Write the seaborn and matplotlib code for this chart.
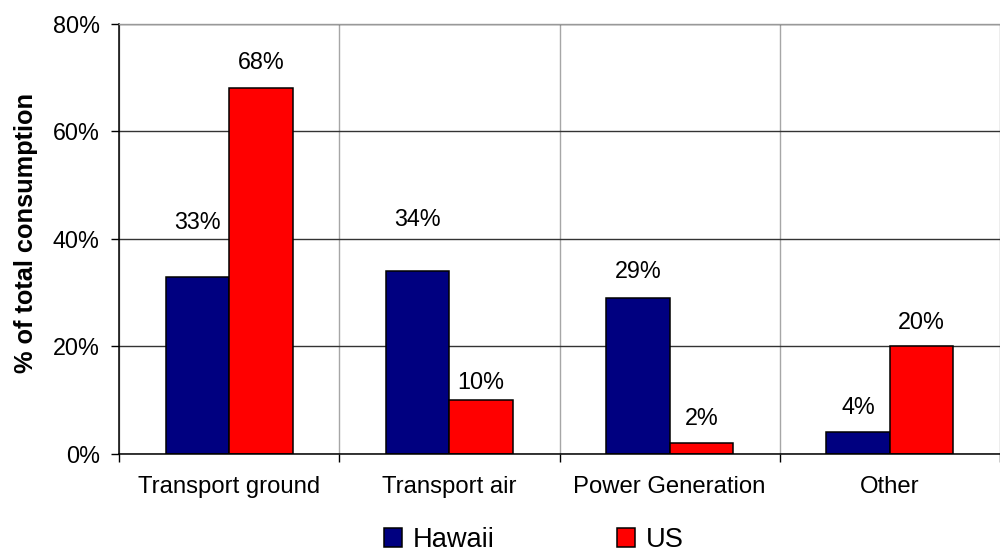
import matplotlib
matplotlib.use("Agg")
import matplotlib.pyplot as plt
import seaborn as sns
import pandas as pd
from matplotlib.ticker import FuncFormatter
from matplotlib.patches import Patch

# ---- data ----
categories = ["Transport ground", "Transport air", "Power Generation", "Other"]
series = ["Hawaii", "US"]
hawaii = [33, 34, 29, 4]
us = [68, 10, 2, 20]
y_ticks = [0, 20, 40, 60, 80]

colors = {"Hawaii": "#000080", "US": "#FF0000"}
# label offsets above bar tops (points)
label_offsets = {"Hawaii": [39, 37.5, 19.5, 18], "US": [19, 12.5, 18, 17.5]}

df = pd.DataFrame({
    "category": categories * 2,
    "region": ["Hawaii"] * len(hawaii) + ["US"] * len(us),
    "value": hawaii + us,
})

sns.set_theme(style="white")
plt.rcParams["font.family"] = ["Liberation Sans", "DejaVu Sans"]
plt.rcParams["text.color"] = "black"

fig = plt.figure(figsize=(10, 5.55), dpi=100)
ax = fig.add_axes([0.119, 0.182, 0.881, 0.7748])

sns.barplot(data=df, x="category", y="value", hue="region", order=categories,
            hue_order=series, palette=colors, width=0.577, gap=0,
            edgecolor="black", linewidth=1.1, saturation=1, errorbar=None,
            legend=False, ax=ax)

ax.set_xlim(-0.5, len(categories) - 0.5)
ax.set_ylim(0, 80)
ax.set_yticks(y_ticks)
ax.yaxis.set_major_formatter(FuncFormatter(lambda v, p: f"{v:.0f}%"))

# grid
ax.set_axisbelow(True)
ax.yaxis.grid(True, color="#333333", linewidth=1.0)
ax.set_xticks([i - 0.5 for i in range(len(categories) + 1)], minor=True)
ax.xaxis.grid(True, which="minor", color="#A6A6A6", linewidth=1.0)
ax.xaxis.grid(False, which="major")

# spines
for s in ["left", "bottom"]:
    ax.spines[s].set_color("black")
    ax.spines[s].set_linewidth(1.1)
ax.spines["top"].set_color("#999999")
ax.spines["top"].set_linewidth(1.0)
ax.spines["right"].set_visible(False)

ax.tick_params(axis="x", which="major", length=0, pad=15.5, labelsize=17.2, colors="black")
ax.tick_params(axis="x", which="minor", length=5.8, width=1.0, direction="out",
               color="black", bottom=True)
ax.tick_params(axis="y", length=5.8, width=1.0, direction="out", left=True,
               pad=8.0, labelsize=16.8, colors="black")

ax.set_xlabel("")
ax.set_ylabel("% of total consumption", fontsize=18.3, fontweight="bold", color="black")
ax.yaxis.set_label_coords(-0.092, 0.513)

# value labels
for cont, name in zip(ax.containers, series):
    for bar, off in zip(cont, label_offsets[name]):
        h = bar.get_height()
        ax.annotate(f"{h:.0f}%", (bar.get_x() + bar.get_width() / 2, h),
                    xytext=(0, off), textcoords="offset points",
                    ha="center", va="center", fontsize=16.8, color="black")

# legend
handles = [Patch(facecolor=colors[s], edgecolor="black", linewidth=1.1) for s in series]
fig.legend(handles, series, loc="center", bbox_to_anchor=(0.534, 0.027), ncol=2,
           frameon=False, fontsize=19.6, handlelength=0.66, handleheight=0.66,
           handletextpad=0.4, columnspacing=4.5, borderpad=0, borderaxespad=0,
           labelcolor="black")

fig.savefig("out.png", dpi=100)
